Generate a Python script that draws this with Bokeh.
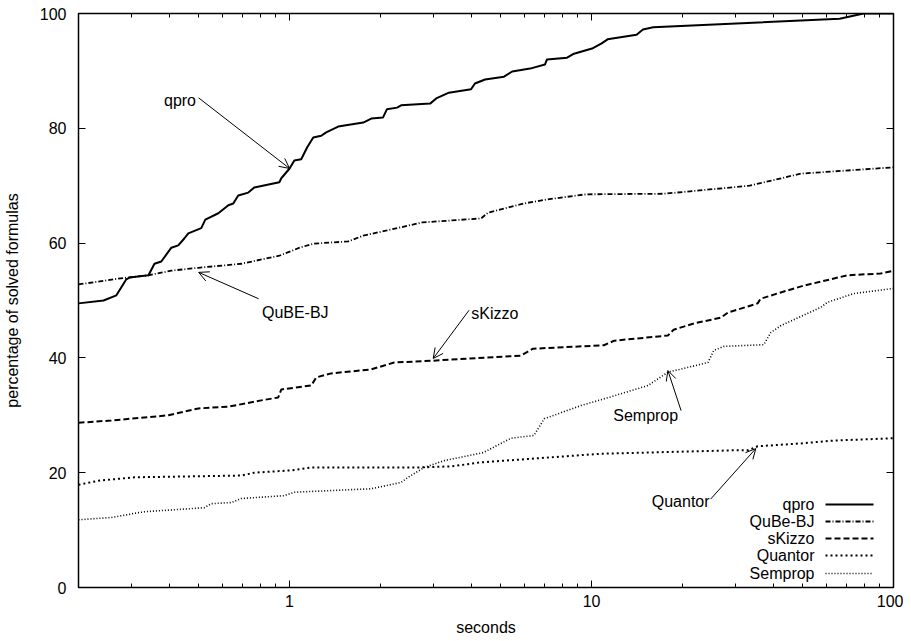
from bokeh.plotting import figure
from bokeh.models import (Range1d, FixedTicker, LogAxis, LinearAxis, Label, Arrow,
                          OpenHead, CustomJSTickFormatter)
from bokeh.embed import file_html
from bokeh.resources import INLINE

# ---------------- data (seconds, percentage of solved formulas) ----------------
qpro_x = [0.2, 0.242, 0.267, 0.288, 0.295, 0.341, 0.357, 0.376, 0.406, 0.428,
          0.448, 0.462, 0.510, 0.526, 0.581, 0.627, 0.651, 0.676, 0.730, 0.764,
          0.925, 0.939, 1.0, 1.037, 1.093, 1.144, 1.198, 1.273, 1.322, 1.449,
          1.754, 1.864, 2.04, 2.10, 2.27, 2.34, 2.92, 3.06, 3.37, 3.99,
          4.11, 4.44, 5.13, 5.46, 6.26, 7.01, 7.12, 8.30, 8.75, 10.04,
          10.8, 11.3, 14.1, 14.8, 16.0, 66.3, 79.6, 100]
qpro_y = [49.5, 50.0, 50.9, 53.7, 54.0, 54.4, 56.4, 56.8, 59.2, 59.6,
          60.8, 61.7, 62.6, 64.1, 65.2, 66.6, 66.9, 68.3, 68.8, 69.7,
          70.6, 71.3, 73.0, 74.4, 74.6, 76.7, 78.4, 78.7, 79.3, 80.3,
          81.0, 81.7, 81.9, 83.3, 83.6, 84.0, 84.3, 85.2, 86.2, 86.8,
          87.8, 88.5, 89.0, 89.9, 90.4, 91.1, 92.0, 92.3, 93.0, 93.9,
          94.8, 95.5, 96.3, 97.2, 97.6, 99.1, 100.0, 100.0]

qube_x = [0.2, 0.271, 0.341, 0.406, 0.499, 0.692, 0.925, 1.08, 1.198, 1.564,
          1.754, 2.10, 2.75, 4.31, 4.54, 5.97, 7.12, 9.58, 17.4, 33.4,
          49.3, 100]
qube_y = [52.8, 53.8, 54.4, 55.2, 55.7, 56.4, 57.8, 59.2, 59.9, 60.3,
          61.3, 62.2, 63.6, 64.3, 65.3, 66.9, 67.6, 68.5, 68.6, 70.0,
          72.1, 73.2]

skizzo_x = [0.2, 0.257, 0.397, 0.499, 0.627, 0.806, 0.917, 0.939, 1.18, 1.226,
            1.374, 1.864, 2.22, 2.94, 3.43, 5.84, 6.40, 10.99, 11.9, 17.9,
            18.7, 21.8, 26.8, 28.3, 35.5, 36.3, 42.3, 50.5, 62.0, 70.5,
            90.6, 100]
skizzo_y = [28.7, 29.1, 30.0, 31.2, 31.5, 32.6, 33.1, 34.5, 35.2, 36.6,
            37.3, 38.0, 39.2, 39.5, 39.7, 40.4, 41.6, 42.2, 43.0, 43.9,
            44.9, 46.0, 47.0, 47.9, 49.5, 50.3, 51.4, 52.6, 53.7, 54.4,
            54.7, 55.2]

quantor_x = [0.2, 0.233, 0.306, 0.692, 0.764, 1.01, 1.18, 2.59, 3.43, 4.3,
             5.84, 10.7, 29.6, 32.9, 35.5, 49.3, 63.4, 100]
quantor_y = [17.9, 18.6, 19.2, 19.5, 20.0, 20.4, 20.9, 20.9, 21.1, 21.8,
             22.3, 23.3, 23.9, 23.9, 24.6, 25.1, 25.6, 26.0]

semprop_x = [0.2, 0.257, 0.306, 0.331, 0.522, 0.55, 0.641, 0.692, 0.96, 1.037,
             1.864, 2.34, 2.47, 2.79, 3.25, 4.38, 5.41, 6.45, 6.97, 9.23,
             11.9, 15.4, 17.9, 24.3, 25.4, 27.4, 37.2, 39.2, 42.3, 57.4,
             60.5, 73.8, 100]
semprop_y = [11.8, 12.2, 12.9, 13.2, 13.9, 14.6, 14.8, 15.5, 16.0, 16.6,
             17.2, 18.3, 19.2, 20.9, 22.1, 23.5, 26.0, 26.5, 29.4, 31.7,
             33.4, 35.2, 37.5, 39.2, 41.3, 42.0, 42.3, 44.4, 45.6, 48.8,
             49.7, 51.2, 52.1]

x_major_ticks = [1, 10, 100]
x_minor_ticks = [0.3, 0.4, 0.5, 0.6, 0.7, 0.8, 0.9,
                 2, 3, 4, 5, 6, 7, 8, 9,
                 20, 30, 40, 50, 60, 70, 80, 90]
y_ticks = [0, 20, 40, 60, 80, 100]

legend_names = ["qpro", "QuBe-BJ", "sKizzo", "Quantor", "Semprop"]

# annotations: text, text anchor (x, y), alignment, arrow start, arrow end
ann_text = ["qpro", "QuBE-BJ", "sKizzo", "Semprop", "Quantor"]
ann_tx = [0.49, 0.81, 4.0, 11.8, 24.6]
ann_ty = [84.9, 47.9, 47.7, 30.0, 15.0]
ann_align = ["right", "left", "left", "left", "right"]
ann_x0 = [0.50, 0.79, 3.93, 19.8, 24.8]
ann_y0 = [85.3, 50.3, 48.3, 30.8, 15.4]
ann_x1 = [1.0, 0.50, 2.99, 17.9, 35.0]
ann_y1 = [73.0, 54.9, 39.9, 37.8, 24.2]

# ---------------- figure ----------------
FONT = "Liberation Sans"
FS = "16px"

p = figure(width=903, height=639, x_axis_type="log",
           x_range=Range1d(0.2, 100), y_range=Range1d(0, 100),
           output_backend="svg", toolbar_location=None,
           min_border_left=77, min_border_right=10,
           min_border_top=13, min_border_bottom=52)
p.grid.visible = False
p.outline_line_color = "black"
p.outline_line_width = 1.5
p.background_fill_color = "white"
p.border_fill_color = "white"

xt = FixedTicker(ticks=x_major_ticks, minor_ticks=x_minor_ticks)
yt = FixedTicker(ticks=y_ticks, minor_ticks=[])
fmt = CustomJSTickFormatter(code="return tick.toString();")
blank = CustomJSTickFormatter(code="return '';")


def style_axis(ax):
    ax.axis_line_color = "black"
    ax.axis_line_width = 1
    ax.major_tick_line_color = "black"
    ax.minor_tick_line_color = "black"
    ax.major_tick_in = 7
    ax.major_tick_out = 0
    ax.minor_tick_in = 4
    ax.minor_tick_out = 0
    ax.major_label_text_font = FONT
    ax.major_label_text_font_size = FS
    ax.major_label_text_color = "black"
    ax.axis_label_text_font = FONT
    ax.axis_label_text_font_size = FS
    ax.axis_label_text_font_style = "normal"
    ax.axis_label_text_color = "black"


xa = p.xaxis[0]
xa.ticker = xt
xa.formatter = fmt
xa.axis_label = "seconds"
style_axis(xa)
xa.major_label_standoff = 7
xa.axis_label_standoff = 9

ya = p.yaxis[0]
ya.ticker = yt
ya.axis_label = "percentage of solved formulas"
style_axis(ya)
ya.major_label_standoff = 12
ya.axis_label_standoff = 16

# mirrored ticks on top and right (no labels)
top = LogAxis(ticker=xt, formatter=blank)
style_axis(top)
top.major_label_standoff = 0
p.add_layout(top, "above")
right = LinearAxis(ticker=yt, formatter=blank)
style_axis(right)
right.major_label_standoff = 0
p.add_layout(right, "right")

# ---------------- series ----------------
styles = [
    dict(line_width=2.0, line_dash="solid", line_color="black"),
    dict(line_width=1.8, line_dash="5 2 1 2", line_color="black"),
    dict(line_width=2.0, line_dash="6 3", line_color="black"),
    dict(line_width=2.0, line_dash="2 3", line_color="black"),
    dict(line_width=1.6, line_dash="1 2", line_color="black"),
]
series = [(qpro_x, qpro_y), (qube_x, qube_y), (skizzo_x, skizzo_y),
          (quantor_x, quantor_y), (semprop_x, semprop_y)]
for (sx, sy), st in zip(series, styles):
    p.line(sx, sy, **st)

# ---------------- annotations ----------------
for t, tx, ty, al, x0, y0, x1, y1 in zip(ann_text, ann_tx, ann_ty, ann_align,
                                         ann_x0, ann_y0, ann_x1, ann_y1):
    p.add_layout(Label(x=tx, y=ty, text=t, text_align=al, text_baseline="middle",
                       text_font=FONT, text_font_size=FS, text_color="black"))
    p.add_layout(Arrow(x_start=x0, y_start=y0, x_end=x1, y_end=y1,
                       line_width=1, line_color="black",
                       end=OpenHead(size=10, line_width=1, line_color="black")))

# ---------------- gnuplot-style key (label left, sample right) ----------------
key_text_x = 736
key_line_x0, key_line_x1 = 747, 795
key_rows = [83, 66, 49, 32, 14]
for name, st, ry in zip(legend_names, styles, key_rows):
    p.add_layout(Label(x=key_text_x, y=ry, x_units="screen", y_units="screen",
                       text=name, text_align="right", text_baseline="middle",
                       text_font=FONT, text_font_size=FS, text_color="black"))
    p.add_layout(Arrow(x_start=key_line_x0, y_start=ry, x_end=key_line_x1, y_end=ry,
                       start_units="screen", end_units="screen", end=None,
                       line_width=st["line_width"], line_dash=st["line_dash"],
                       line_color=st["line_color"]))

open("out.html", "w").write(file_html(p, INLINE))
